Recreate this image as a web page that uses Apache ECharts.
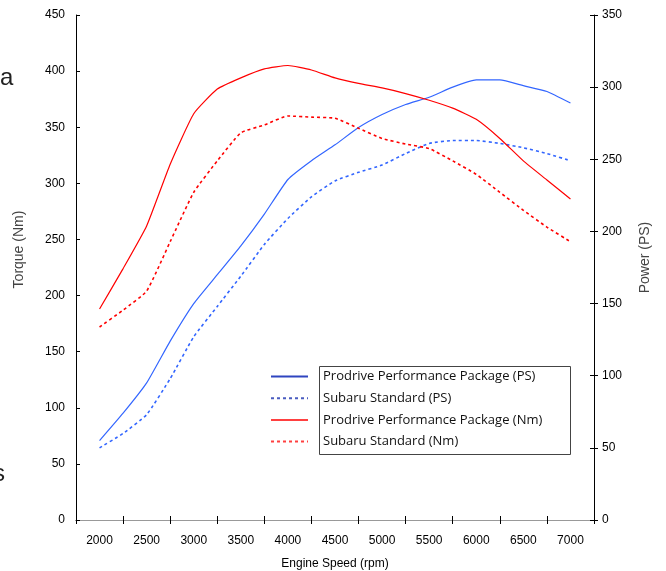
<!DOCTYPE html>
<html>
<head>
<meta charset="utf-8">
<script src="https://cdn.jsdelivr.net/npm/echarts@6/dist/echarts.min.js"></script>
<style>
html,body{margin:0;padding:0;background:#fff;}
#chart{width:666px;height:571px;}
</style>
</head>
<body>
<div id="chart"></div>
<script>
// Engine speed (rpm)
const rpm = [2000,2250,2500,2750,3000,3250,3500,3750,4000,4250,4500,4750,5000,5250,5500,5750,6000,6250,6500,6750,7000];
// Power (PS)
const prodrivePS = [55,74,95,124,150,170,190,212,236,249,260,272,281,288,293,300,305,305,301,297,289];
const subaruPS   = [50,60,73,98,127,148,169,191,209,224,235,241,246,254,261,263,263,261,258,254,249];
// Torque (Nm)
const prodriveNm = [188,224,262,317,362,384,394,402,405,401,394,389,385,380,374,367,357,340,320,303,286];
const subaruNm   = [172,187,204,248,292,320,345,352,360,359,358,349,340,335,331,320,308,292,276,261,248];
// Axis ticks
const xTicks  = [1750,2250,2750,3250,3750,4250,4750,5250,5750,6250,6750,7250];
const xLabels = [2000,2500,3000,3500,4000,4500,5000,5500,6000,6500,7000];
const seriesNames = ['Prodrive Performance Package (PS)','Subaru Standard (PS)','Prodrive Performance Package (Nm)','Subaru Standard (Nm)'];

const pair = (ys) => rpm.map((x,i)=>[x,ys[i]]);
const axisFont = {fontFamily:'Liberation Sans, Arial, sans-serif', fontSize:12, color:'#000'};
const nameFont = {fontFamily:'Liberation Sans, Arial, sans-serif', fontSize:14, color:'#444'};
const BLUE = '#3366ff', RED = '#ff0000';

const chart = echarts.init(document.getElementById('chart'));
chart.setOption({
  animation:false,
  backgroundColor:'#fff',
  grid:{left:76, right:72, top:15, bottom:51, containLabel:false, outerBoundsMode:'none'},
  xAxis:[
    {type:'value', min:1750, max:7250, position:'bottom',
     axisLine:{show:true, lineStyle:{color:'#000', width:1}},
     axisTick:{show:true, inside:false, length:4, customValues:xTicks, lineStyle:{color:'#000'}},
     axisLabel:{show:true, customValues:xLabels, margin:15, formatter:v=>String(v), ...axisFont},
     splitLine:{show:false},
     name:'Engine Speed (rpm)', nameLocation:'middle', nameGap:38, nameTextStyle:{...axisFont, fontSize:12}},
    {type:'value', min:1750, max:7250, position:'bottom',
     axisLine:{show:false},
     axisTick:{show:true, inside:true, length:4, customValues:xTicks, lineStyle:{color:'#000'}},
     axisLabel:{show:false}, splitLine:{show:false}},
    {type:'value', min:1750, max:7250, position:'top',
     axisLine:{show:true, lineStyle:{color:'#999', width:1}},
     axisTick:{show:false}, axisLabel:{show:false}, splitLine:{show:false}}
  ],
  yAxis:[
    {type:'value', min:0, max:450, interval:50, position:'left',
     axisLine:{show:true, lineStyle:{color:'#000'}},
     axisTick:{show:true, inside:true, length:4, lineStyle:{color:'#000'}},
     axisLabel:{margin:11, ...axisFont},
     splitLine:{show:false},
     name:'Torque (Nm)', nameLocation:'middle', nameGap:50, nameRotate:90,
     nameTextStyle:{...nameFont, padding:[0,0,0,36]}},
    {type:'value', min:0, max:350, interval:50, position:'right',
     axisLine:{show:true, lineStyle:{color:'#000'}},
     axisTick:{show:true, inside:false, length:4, lineStyle:{color:'#000'}},
     axisLabel:{margin:8, ...axisFont},
     splitLine:{show:false},
     name:'Power (PS)', nameLocation:'middle', nameGap:44, nameRotate:90,
     nameTextStyle:{...nameFont, padding:[0,0,0,20]}},
    {type:'value', min:0, max:350, interval:50, position:'right',
     axisLine:{show:false},
     axisTick:{show:true, inside:true, length:4, lineStyle:{color:'#000'}},
     axisLabel:{show:false}, splitLine:{show:false}}
  ],
  legend:{
    orient:'vertical', left:270, top:370, padding:0, itemWidth:37, itemHeight:14, itemGap:8.7,
    itemStyle:{opacity:0},
    formatter: n => '{t|' + n + '}',
    textStyle:{fontFamily:'Open Sans, sans-serif', fontSize:13, color:'#111',
      rich:{t:{fontFamily:'Open Sans, sans-serif', fontSize:13, color:'#111', padding:[0,0,0,10]}}},
    data:[
      {name:seriesNames[0], lineStyle:{color:'#2f45c0'}},
      {name:seriesNames[1], lineStyle:{color:'#4a5cc0'}},
      {name:seriesNames[2], lineStyle:{color:'#ff4040'}},
      {name:seriesNames[3], lineStyle:{color:'#ff4040'}}
    ]
  },
  graphic:[
    {type:'rect', shape:{x:319.5, y:366.5, width:251, height:88}, style:{fill:'none', stroke:'#444', lineWidth:1}, z:1},
    {type:'text', left:0, top:66, style:{text:'a', font:'24px Liberation Sans, Arial, sans-serif', fill:'#222'}},
    {type:'text', left:-7, top:462, style:{text:'s', font:'24px Liberation Sans, Arial, sans-serif', fill:'#222'}}
  ],
  series:[
    {name:seriesNames[0], type:'line', xAxisIndex:0, yAxisIndex:1, data:pair(prodrivePS), symbol:'none', smooth:0.15,
     lineStyle:{color:BLUE, width:1.2}, itemStyle:{color:BLUE}},
    {name:seriesNames[1], type:'line', xAxisIndex:0, yAxisIndex:1, data:pair(subaruPS), symbol:'none', smooth:0.15,
     lineStyle:{color:BLUE, width:1.6, type:[3,3]}, itemStyle:{color:BLUE}},
    {name:seriesNames[2], type:'line', xAxisIndex:0, yAxisIndex:0, data:pair(prodriveNm), symbol:'none', smooth:0.15,
     lineStyle:{color:RED, width:1.2}, itemStyle:{color:RED}},
    {name:seriesNames[3], type:'line', xAxisIndex:0, yAxisIndex:0, data:pair(subaruNm), symbol:'none', smooth:0.15,
     lineStyle:{color:RED, width:1.6, type:[3,3]}, itemStyle:{color:RED}}
  ]
});
</script>
</body>
</html>
